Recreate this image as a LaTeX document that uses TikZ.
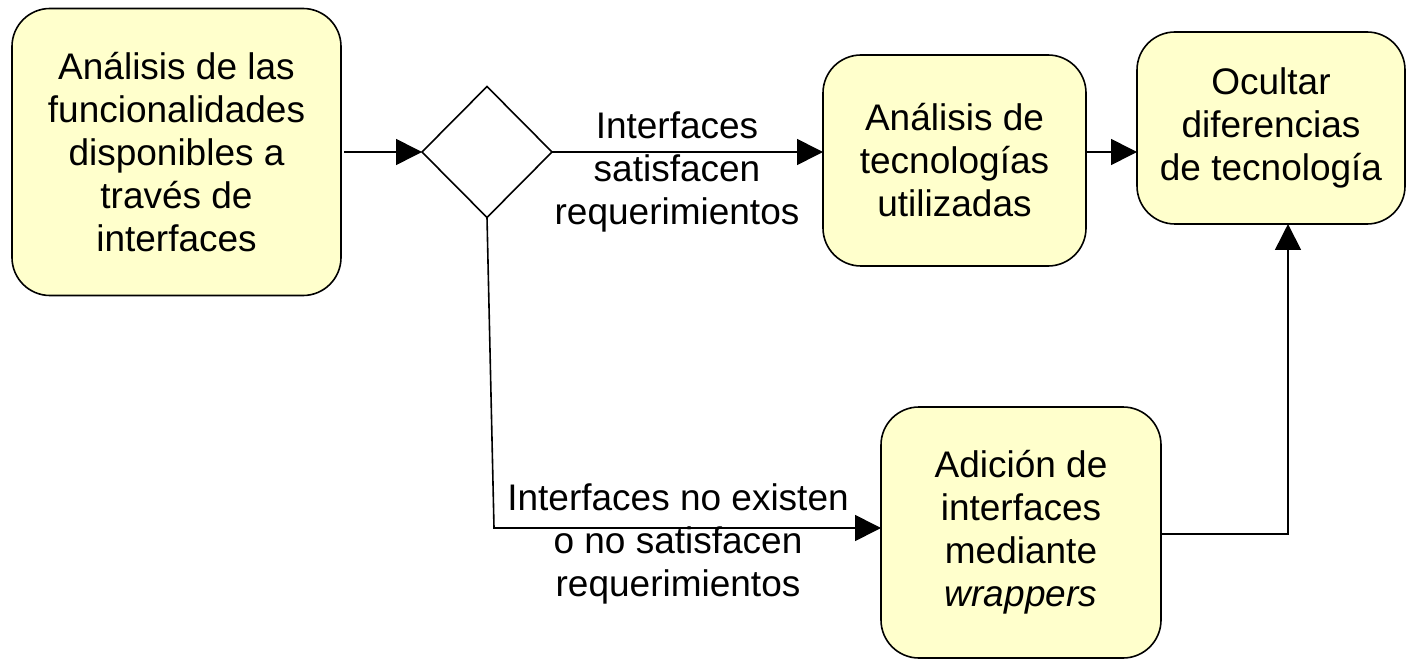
\documentclass[tikz,border=0pt]{standalone}
\usepackage{fontspec}
\setmainfont{Liberation Sans}
\usetikzlibrary{shapes.geometric,arrows.meta}
\definecolor{boxfill}{HTML}{FFFFCC}
\begin{document}
\begin{tikzpicture}[x=1pt,y=-1pt,
  every node/.style={font=\fontsize{37}{43}\selectfont, align=center},
  procbox/.style={draw, line width=1.6pt, fill=boxfill, rounded corners=38pt,
    inner sep=0pt, outer sep=0pt},
  decision/.style={draw, line width=1.6pt, diamond, inner sep=0pt, outer sep=0pt,
    minimum width=130pt, minimum height=131pt},
  arr/.style={line width=1.6pt, -{Triangle[length=26pt,width=26pt]}},
  lbl/.style={inner sep=0pt}]
\useasboundingbox (0,0) rectangle (1407,660);

% process boxes
\node[procbox, minimum width=329pt, minimum height=287pt] (A) at (176.5,152)
  {Análisis de las\\funcionalidades\\disponibles a\\través de\\interfaces};
\node[decision] (dia) at (487,152) {};
\node[procbox, minimum width=263pt, minimum height=211pt] (B) at (954.5,160.5)
  {Análisis de\\tecnologías\\utilizadas};
\node[procbox, minimum width=268pt, minimum height=192pt] (C) at (1271,128)
  {Ocultar\\diferencias\\de tecnología};
\node[procbox, minimum width=280pt, minimum height=251pt] (D) at (1021,532.5)
  {Adición de\\interfaces\\mediante\\\textit{wrappers}};

% edge labels
\node[lbl] (l1) at (677,172) {Interfaces\\satisfacen\\requerimientos};
\node[lbl] (l2) at (678,544) {Interfaces no existen\\o no satisfacen\\requerimientos};

% connectors
\coordinate (bend) at (494,528);
\coordinate (up) at (1288,534);
\draw[arr, shorten <=3pt] (A.east) -- (dia.west);
\draw[arr] (dia.east) -- (dia.east -| B.west);
\draw[arr] (B.east |- dia.east) -- (C.west |- dia.east);
\draw[arr] (dia.south) -- (bend) -- (bend -| D.west);
\draw[arr] (D.east |- up) -- (up) -- (up |- C.south);
\end{tikzpicture}
\end{document}
